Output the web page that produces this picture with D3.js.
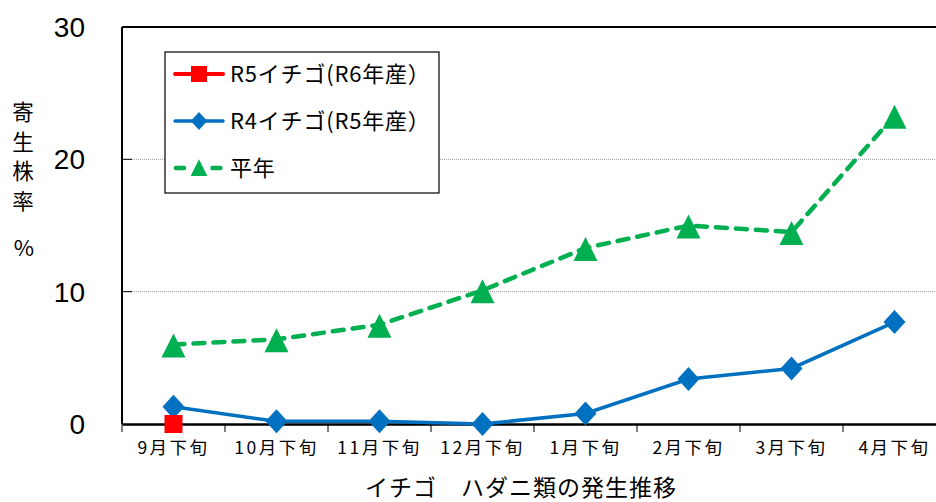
<!DOCTYPE html>
<html><head><meta charset="utf-8">
<script src="https://cdn.jsdelivr.net/npm/d3@7"></script>
<style>
body{margin:0;background:#fff;}
text{font-family:"Liberation Sans",Arial,"Noto Sans CJK JP",sans-serif;}
</style></head>
<body><svg id="c" width="936" height="502"></svg>
<script>
const categories = ["9月下旬","10月下旬","11月下旬","12月下旬","1月下旬","2月下旬","3月下旬","4月下旬"];
const heinen = [6.0, 6.4, 7.5, 10.1, 13.3, 15.0, 14.5, 23.3];
const r4 = [1.3, 0.2, 0.2, 0.0, 0.8, 3.4, 4.2, 7.7];
const r5 = [0.0];
const yTicks = [0, 10, 20, 30];
const seriesNames = ["R5イチゴ(R6年産）", "R4イチゴ(R5年産）", "平年"];
const yTitle = ["寄","生","株","率"];
const xTitle = "イチゴ　ハダニ類の発生推移";

const svg = d3.select("#c");
const L = 122, T = 27, B = 424, R = 946;
const x = d3.scaleBand().domain(categories).range([L, R]);
const y = d3.scaleLinear().domain([0, 30]).range([B, T]);
const jp = '"Noto Sans CJK JP",sans-serif';

// gridlines
svg.append("g").selectAll("line").data([10,20]).join("line")
  .attr("x1", L).attr("x2", R).attr("y1", d=>y(d)).attr("y2", d=>y(d))
  .attr("stroke", "#999").attr("stroke-width", 1).attr("stroke-dasharray", "1,1");
// inner y ticks
svg.append("g").selectAll("line").data([10,20]).join("line")
  .attr("x1", L).attr("x2", L+10).attr("y1", d=>y(d)).attr("y2", d=>y(d))
  .attr("stroke", "#000").attr("stroke-width", 1);
// frame
svg.append("line").attr("x1", L).attr("x2", R).attr("y1", T).attr("y2", T).attr("stroke","#000").attr("stroke-width",2);
svg.append("line").attr("x1", L).attr("x2", L).attr("y1", T).attr("y2", B).attr("stroke","#000").attr("stroke-width",2);

// x axis
const xAxis = svg.append("g").attr("transform", `translate(0,${B})`)
  .call(d3.axisBottom(x).tickSize(0).tickPadding(18));
xAxis.select(".domain").attr("stroke","#000").attr("stroke-width",2.5);
xAxis.selectAll("text").attr("font-size", 17.5).attr("fill","#000")
  .style("font-family", jp).style("letter-spacing","2.5px");
// boundary ticks
svg.append("g").selectAll("line").data(d3.range(categories.length+1)).join("line")
  .attr("x1", i=>L + i*x.step()).attr("x2", i=>L + i*x.step())
  .attr("y1", B).attr("y2", B+8).attr("stroke","#000").attr("stroke-width",1);

// y labels
svg.append("g").selectAll("text").data(yTicks).join("text")
  .attr("x", 85).attr("y", d=>y(d)).attr("dy","0.36em").attr("text-anchor","end")
  .attr("font-size", 28).text(d=>d);

// y title
svg.append("g").selectAll("text").data(yTitle).join("text")
  .attr("x", 23).attr("y", (d,i)=>120 + i*29.5).attr("text-anchor","middle")
  .attr("font-size", 21.5).style("font-family", jp).text(d=>d);
svg.append("text").attr("x", 24).attr("y", 256).attr("text-anchor","middle")
  .attr("font-size", 22).style("font-family", jp).text("%");

// x title
svg.append("text").attr("x", 521).attr("y", 496).attr("text-anchor","middle")
  .attr("font-size", 23).style("font-family", jp).style("letter-spacing","1px").text(xTitle);

const cx = (d,i)=>x(categories[i]) + x.bandwidth()/2;
const green = "#00B050", blue = "#0070C0", red = "#FF0000";
const tri = "M0,-11L12,13L-12,13Z";
const dia = "M0,-12L11,0L0,12L-11,0Z";

// heinen
svg.append("path").datum(heinen).attr("fill","none").attr("stroke",green).attr("stroke-width",4.5)
  .attr("stroke-dasharray","11,9").attr("stroke-linecap","round")
  .attr("d", d3.line().x(cx).y(d=>y(d)));
svg.append("g").selectAll("path").data(heinen).join("path")
  .attr("transform",(d,i)=>`translate(${cx(d,i)},${y(d)})`).attr("d", tri).attr("fill", green);

// r4
svg.append("path").datum(r4).attr("fill","none").attr("stroke",blue).attr("stroke-width",3.5)
  .attr("d", d3.line().x(cx).y(d=>y(d)));
svg.append("g").selectAll("path").data(r4).join("path")
  .attr("transform",(d,i)=>`translate(${cx(d,i)},${y(d)})`).attr("d", dia).attr("fill", blue);

// r5
svg.append("g").selectAll("rect").data(r5).join("rect")
  .attr("x",(d,i)=>cx(d,i)-9).attr("y",d=>y(d)-9).attr("width",18).attr("height",18).attr("fill",red);

// legend
const lg = svg.append("g");
lg.append("rect").attr("x",165).attr("y",52).attr("width",274).attr("height",141)
  .attr("fill","#fff").attr("stroke","#000").attr("stroke-width",1.2);
const rows = [74, 121, 168];
// red
lg.append("line").attr("x1",175).attr("x2",223).attr("y1",rows[0]).attr("y2",rows[0]).attr("stroke",red).attr("stroke-width",4).attr("stroke-linecap","round");
lg.append("rect").attr("x",191).attr("y",rows[0]-8).attr("width",16).attr("height",16).attr("fill",red);
// blue
lg.append("line").attr("x1",175).attr("x2",223).attr("y1",rows[1]).attr("y2",rows[1]).attr("stroke",blue).attr("stroke-width",3.5).attr("stroke-linecap","round");
lg.append("path").attr("transform",`translate(199,${rows[1]}) scale(0.75)`).attr("d",dia).attr("fill",blue);
// green
lg.append("line").attr("x1",176).attr("x2",223).attr("y1",rows[2]).attr("y2",rows[2]).attr("stroke",green).attr("stroke-width",4.5)
  .attr("stroke-dasharray","8,14,0.5,14").attr("stroke-linecap","round");
lg.append("path").attr("transform",`translate(199,${rows[2]-1}) scale(0.7)`).attr("d",tri).attr("fill",green);
lg.selectAll("text").data(seriesNames).join("text")
  .attr("x",230).attr("y",(d,i)=>rows[i]).attr("dy","0.36em").attr("font-size",22)
  .style("font-family", jp).style("letter-spacing","0.8px").text(d=>d);
</script></body></html>
